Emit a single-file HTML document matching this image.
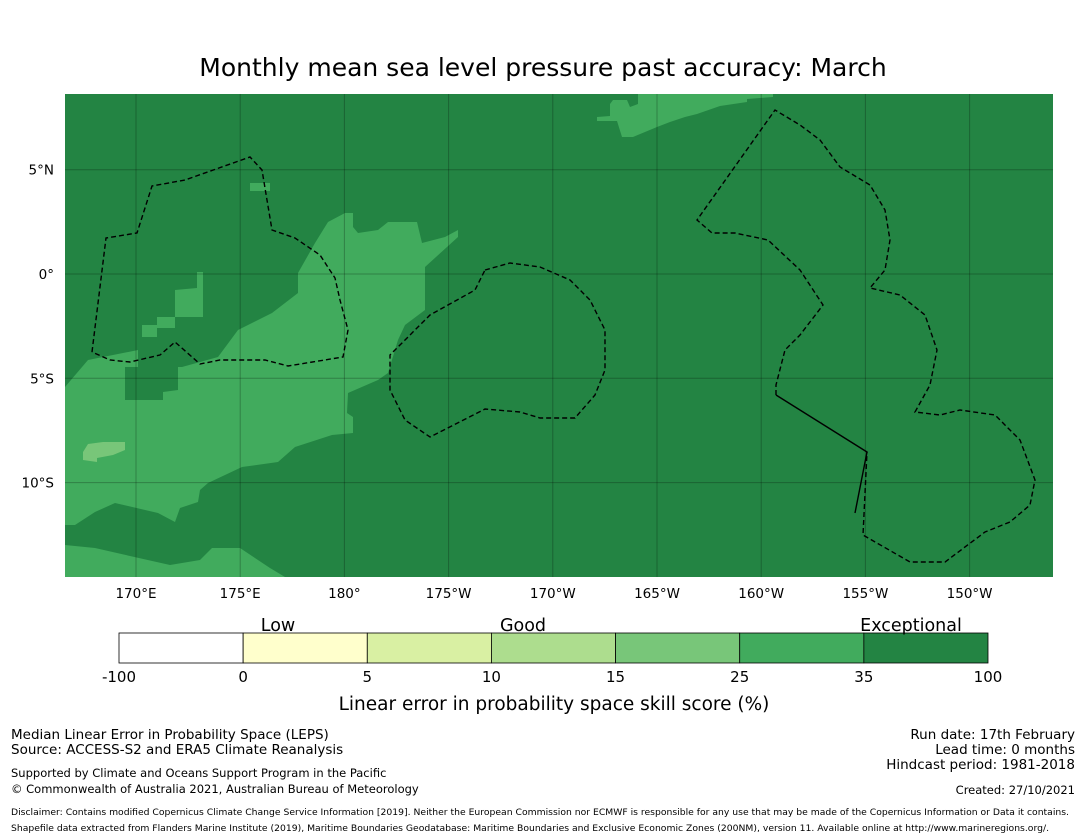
<!DOCTYPE html>
<html><head><meta charset="utf-8"><style>
html,body{margin:0;padding:0;background:#fff;}
svg{display:block;font-family:"DejaVu Sans","Liberation Sans",sans-serif;}
</style></head><body>
<svg id="chart" width="1085" height="839" viewBox="0 0 1085 839" xmlns="http://www.w3.org/2000/svg">
<text x="543" y="76" font-size="25" text-anchor="middle">Monthly mean sea level pressure past accuracy: March</text>
<g id="map">
<defs><clipPath id="mc"><rect x="65" y="94" width="988" height="483"/></clipPath></defs>
<g clip-path="url(#mc)">
<rect x="65" y="94" width="988" height="483" fill="#238443"/>
<polygon fill="#41ab5d" points="65,387 88,360 138,350 138,367 182,367 218,357 238,330 272,313 298,293 298,273 315,243 328,222 345,213 353,213 353,227 358,233 378,230 388,222 417,222 422,243 445,237 458,230 458,237 425,267 425,310 405,325 398,340 388,373 378,380 348,393 347,413 353,417 353,433 332,435 295,447 278,462 242,467 208,483 200,490 198,502 180,508 175,522 158,513 115,503 95,512 75,525 65,525"/>
<polygon fill="#238443" points="125,367 178,367 178,390 163,392 163,400 125,400"/>
<polygon fill="#41ab5d" points="175,290 197,288 197,272 203,272 203,317 175,317 175,328 157,328 157,337 142,337 142,325 157,325 157,317 175,317"/>
<polygon fill="#41ab5d" points="65,545 95,548 130,556 170,565 200,560 212,548 240,548 270,568 285,577 65,577"/>
<polygon fill="#41ab5d" points="638,94 773,94 773,97 747,99 747,102 720,106 697,114 685,117 670,122 657,127 645,132 633,137 622,137 617,121 597,121 597,117 610,116 610,104 613,100 627,100 630,107 638,104"/>
<rect x="250" y="183" width="20" height="8" fill="#41ab5d"/>
<polygon fill="#78c679" points="88,444 103,442 125,442 125,450 113,455 97,458 97,462 83,460 83,452"/>
<g id="grid"></g>
<g fill="none" stroke="#000" stroke-width="1.4" stroke-dasharray="5,3">
<polyline points="92,352 106,238 137,233 152,186 185,180 250,157 262,170 272,230 295,238 320,255 335,278 340,300 348,330 343,357 288,366 265,360 220,360 200,364 175,342 160,355 130,362 110,360 92,352"/>
<polyline points="485,270 510,263 540,267 570,280 590,300 605,330 605,370 595,395 575,418 540,418 520,412 485,409 430,437 405,420 390,390 390,355 430,315 475,290 485,270"/>
<polyline points="776,395 776,385 785,350 800,335 823,305 800,270 768,240 735,233 712,233 697,220 775,110 800,125 820,140 840,167 870,185 885,210 890,240 885,270 870,288 900,295 925,315 937,350 930,385 915,412 940,415 960,410 995,415 1020,440 1035,480 1030,505 1010,522 985,532 945,562 910,562 863,535 867,452"/>
</g>
<polyline fill="none" stroke="#000" stroke-width="1.4" points="776,395 867,452 855,513"/>
</g>
</g>
<g id="axes" font-size="13.5"></g>
<g id="cbar"></g>
<text x="554" y="710" font-size="18.5" text-anchor="middle">Linear error in probability space skill score (%)</text>
<g font-size="17.5" text-anchor="middle">
<text x="278" y="631">Low</text>
<text x="523" y="631">Good</text>
<text x="911" y="631">Exceptional</text>
</g>
<g font-size="13.5">
<text x="11" y="739">Median Linear Error in Probability Space (LEPS)</text>
<text x="11" y="754">Source: ACCESS-S2 and ERA5 Climate Reanalysis</text>
<text x="1075" y="739" text-anchor="end">Run date: 17th February</text>
<text x="1075" y="754" text-anchor="end">Lead time: 0 months</text>
<text x="1075" y="769" text-anchor="end">Hindcast period: 1981-2018</text>
</g>
<g font-size="11.5">
<text x="11" y="777">Supported by Climate and Oceans Support Program in the Pacific</text>
<text x="11" y="793">© Commonwealth of Australia 2021, Australian Bureau of Meteorology</text>
<text x="1075" y="794" text-anchor="end">Created: 27/10/2021</text>
</g>
<g font-size="8.5">
<text x="11" y="815" textLength="1058" lengthAdjust="spacingAndGlyphs">Disclaimer: Contains modified Copernicus Climate Change Service Information [2019]. Neither the European Commission nor ECMWF is responsible for any use that may be made of the Copernicus Information or Data it contains.</text>
<text x="11" y="831" textLength="1038" lengthAdjust="spacingAndGlyphs">Shapefile data extracted from Flanders Marine Institute (2019), Maritime Boundaries Geodatabase: Maritime Boundaries and Exclusive Economic Zones (200NM), version 11. Available online at http://www.marineregions.org/.</text>
</g>
</svg>
<script>
const lonTicks=[170,175,180,185,190,195,200,205,210];
const lonLabels=["170°E","175°E","180°","175°W","170°W","165°W","160°W","155°W","150°W"];
const latTicks=[5,0,-5,-10];
const latLabels=["5°N","0°","5°S","10°S"];
const cbarBounds=["-100","0","5","10","15","25","35","100"];
const cbarColors=["#ffffff","#ffffcc","#d9f0a3","#addd8e","#78c679","#41ab5d","#238443"];
const NS="http://www.w3.org/2000/svg";
function xLon(l){return 136+(l-170)*20.84;}
function yLat(l){return 274-l*20.86;}
function mk(t,a,p){const e=document.createElementNS(NS,t);for(const k in a)e.setAttribute(k,a[k]);p.appendChild(e);return e;}
const grid=document.getElementById('grid'),axes=document.getElementById('axes'),cb=document.getElementById('cbar');
lonTicks.forEach((l,i)=>{const x=xLon(l);
 const g=mk('line',{x1:x,x2:x,y1:94,y2:577,stroke:'#000','stroke-opacity':0.25,'stroke-width':1},grid);
 
 
 const t=mk('text',{x:x,y:598,'text-anchor':'middle'},axes);t.textContent=lonLabels[i];
 
 });
latTicks.forEach((l,i)=>{const y=yLat(l);
 const g=mk('line',{x1:65,x2:1053,y1:y,y2:y,stroke:'#000','stroke-opacity':0.25,'stroke-width':1},grid);
 
 
 const t=mk('text',{x:54,y:y+5,'text-anchor':'end'},axes);t.textContent=latLabels[i];
 
 });
const cx0=119,cw=(988-119)/cbarColors.length;
cbarColors.forEach((c,i)=>{const r=mk('rect',{x:cx0+i*cw,y:633,width:cw,height:30,fill:c,stroke:'#000','stroke-width':0.8},cb);
 
 });
cbarBounds.forEach((b,i)=>{const t=mk('text',{x:cx0+i*cw,y:682,'text-anchor':'middle','font-size':15},cb);t.textContent=b;
 
 });
</script>
</body></html>
